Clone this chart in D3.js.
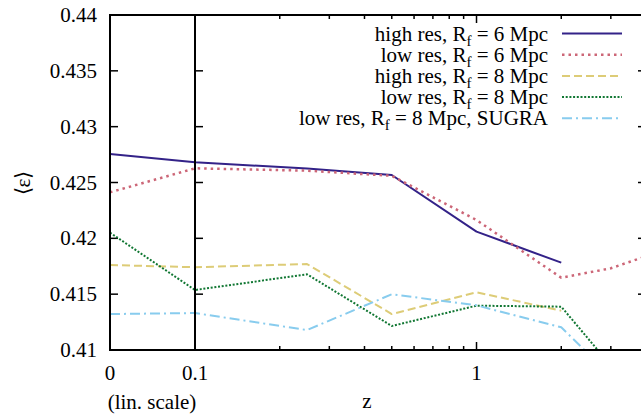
<!DOCTYPE html>
<html>
<head>
<meta charset="utf-8">
<script src="https://cdn.jsdelivr.net/npm/d3@7"></script>
<style>
  body { margin: 0; background: #fff; }
  text { font-family: "Liberation Serif", "Times New Roman", serif; fill: #000; }
</style>
</head>
<body>
<div id="chart"></div>
<script>
// redshift values (0 and 0.1 on linear part, rest on log part)
var zValues = [0, 0.1, 0.25, 0.5, 1, 2, 3, 4];

var highRes6 = [0.42755, 0.42681, 0.42625, 0.42567, 0.42060, 0.41782];
var lowRes6 = [0.42412, 0.42627, 0.42606, 0.42560, 0.42164, 0.41647, 0.41732, 0.41839];
var highRes8 = [0.41761, 0.41741, 0.41770, 0.41322, 0.41517, 0.41352];
var lowRes8 = [0.42051, 0.41537, 0.41678, 0.41215, 0.41397, 0.41388, 0.40860];
var lowRes8Sugra = [0.41322, 0.41331, 0.41179, 0.41499, 0.41400, 0.41203, 0.40770];

var yTicks = [0.41, 0.415, 0.42, 0.425, 0.43, 0.435, 0.44];
var yTickLabels = ["0.41", "0.415", "0.42", "0.425", "0.43", "0.435", "0.44"];
var minorTicks = [0.2, 0.3, 0.4, 0.5, 0.6, 0.7, 0.8, 0.9, 2, 3];

var series = [
  { label: "high res", rf: "6 Mpc", extra: "", values: highRes6, color: "#332288", dash: null, width: 2 },
  { label: "low res", rf: "6 Mpc", extra: "", values: lowRes6, color: "#CC6677", dash: "2.5,4", width: 2.5 },
  { label: "high res", rf: "8 Mpc", extra: "", values: highRes8, color: "#DDCC77", dash: "8,4", width: 2 },
  { label: "low res", rf: "8 Mpc", extra: "", values: lowRes8, color: "#117733", dash: "2,1.7", width: 2 },
  { label: "low res", rf: "8 Mpc", extra: ", SUGRA", values: lowRes8Sugra, color: "#88CCEE", dash: "10,4,2,4", width: 2 }
];

var W = 641, H = 416;
var pLeft = 110, pTop = 15, pBottom = 350, pRight = 646, xBreak = 195;

var svg = d3.select("#chart").append("svg")
  .attr("width", W).attr("height", H);

var xLin = d3.scaleLinear().domain([0, 0.1]).range([pLeft, xBreak]);
var xLog = d3.scaleLog().domain([0.1, 4]).range([xBreak, pRight]);
function xPos(z) { return z <= 0.1 ? xLin(z) : xLog(z); }
var y = d3.scaleLinear().domain([0.41, 0.44]).range([pBottom, pTop]);

svg.append("clipPath").attr("id", "clip")
  .append("rect").attr("x", pLeft).attr("y", pTop)
  .attr("width", pRight - pLeft).attr("height", pBottom - pTop);

// ticks
var tickG = svg.append("g").attr("stroke", "#000").attr("stroke-width", 1.5);
yTicks.forEach(function (v) {
  [pLeft, xBreak].forEach(function (x0) {
    tickG.append("line").attr("x1", x0).attr("x2", x0 + 8).attr("y1", y(v)).attr("y2", y(v));
  });
  tickG.append("line").attr("x1", pRight - 8).attr("x2", pRight).attr("y1", y(v)).attr("y2", y(v));
});
minorTicks.forEach(function (z) {
  tickG.append("line").attr("x1", xLog(z)).attr("x2", xLog(z)).attr("y1", pBottom).attr("y2", pBottom - 4);
  tickG.append("line").attr("x1", xLog(z)).attr("x2", xLog(z)).attr("y1", pTop).attr("y2", pTop + 4);
});
tickG.append("line").attr("x1", xLog(1)).attr("x2", xLog(1)).attr("y1", pBottom).attr("y2", pBottom - 8);
tickG.append("line").attr("x1", xLog(1)).attr("x2", xLog(1)).attr("y1", pTop).attr("y2", pTop + 8);

// lines
var line = d3.line()
  .defined(function (d) { return d != null; })
  .x(function (d, i) { return xPos(zValues[i]); })
  .y(function (d) { return y(d); });

var plot = svg.append("g").attr("clip-path", "url(#clip)");
series.forEach(function (s) {
  plot.append("path")
    .attr("d", line(s.values))
    .attr("fill", "none")
    .attr("stroke", s.color)
    .attr("stroke-width", s.width)
    .attr("stroke-dasharray", s.dash)
    .attr("stroke-linejoin", "round");
});

// frame
svg.append("rect").attr("x", pLeft).attr("y", pTop)
  .attr("width", pRight - pLeft).attr("height", pBottom - pTop)
  .attr("fill", "none").attr("stroke", "#000").attr("stroke-width", 2);
svg.append("line").attr("x1", xBreak).attr("x2", xBreak).attr("y1", pTop).attr("y2", pBottom)
  .attr("stroke", "#000").attr("stroke-width", 2);

// tick labels
yTicks.forEach(function (v, i) {
  svg.append("text").attr("x", 97).attr("y", y(v) + 7)
    .attr("text-anchor", "end").attr("font-size", 21).text(yTickLabels[i]);
});
[[0, "0"], [0.1, "0.1"], [1, "1"]].forEach(function (t) {
  svg.append("text").attr("x", xPos(t[0])).attr("y", 380)
    .attr("text-anchor", "middle").attr("font-size", 21).text(t[1]);
});
svg.append("text").attr("x", 152).attr("y", 409)
  .attr("text-anchor", "middle").attr("font-size", 21).text("(lin. scale)");
svg.append("text").attr("x", 367).attr("y", 408)
  .attr("text-anchor", "middle").attr("font-size", 21).text("z");
svg.append("text").attr("transform", "translate(30,183) rotate(-90)")
  .attr("text-anchor", "middle").attr("font-size", 21).text("⟨ε⟩");

// legend
series.forEach(function (s, i) {
  var cy = 33.5 + i * 21.2;
  var t = svg.append("text").attr("x", 548).attr("y", cy + 7)
    .attr("text-anchor", "end").attr("font-size", 21);
  t.append("tspan").text(s.label + ", R");
  t.append("tspan").attr("font-size", 15).attr("dy", 5).text("f");
  t.append("tspan").attr("dy", -5).text(" = " + s.rf + s.extra);
  svg.append("line").attr("x1", 562).attr("x2", 622).attr("y1", cy).attr("y2", cy)
    .attr("stroke", s.color).attr("stroke-width", s.width)
    .attr("stroke-dasharray", s.dash);
});
</script>
</body>
</html>
